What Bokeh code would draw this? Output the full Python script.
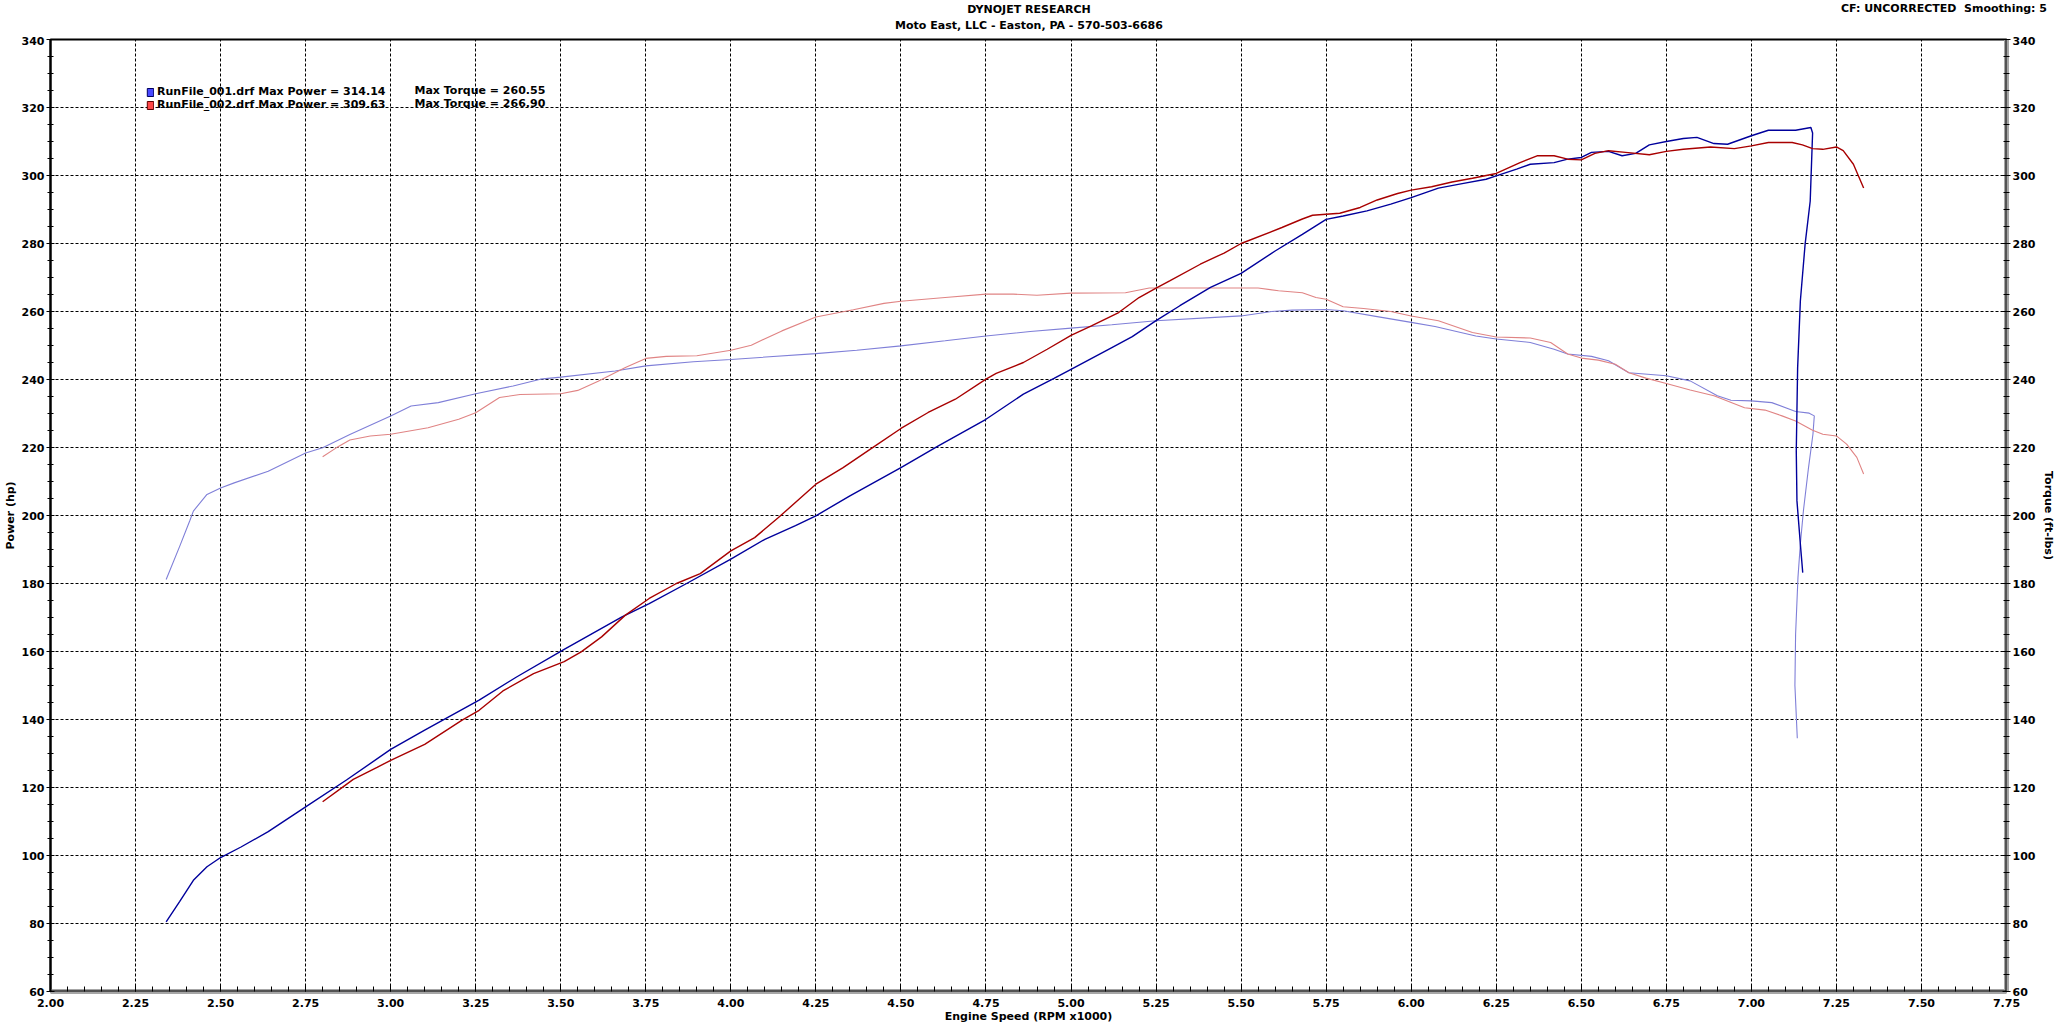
from bokeh.plotting import figure
from bokeh.layouts import column
from bokeh.models import (Range1d, LinearAxis, SingleIntervalTicker, PrintfTickFormatter,
                          Label, Legend, LegendItem, Span, Div)
from bokeh.embed import file_html
from bokeh.resources import INLINE

# ---------------- data ----------------
title_1 = "DYNOJET RESEARCH"
title_2 = "Moto East, LLC - Easton, PA - 570-503-6686"
corner_note = "CF: UNCORRECTED&nbsp;&nbsp;Smoothing: 5"
run_names = ["RunFile_001.drf", "RunFile_002.drf"]
max_power = ["314.14", "309.63"]
max_torque = ["260.55", "266.90"]

rpm1_power = [2.34, 2.38, 2.42, 2.46, 2.50, 2.56, 2.64, 2.75, 2.87, 3.00, 3.10, 3.26, 3.37, 3.51,
              3.68, 3.76, 3.87, 4.00, 4.10, 4.19, 4.25, 4.35, 4.50, 4.61, 4.75, 4.86, 4.95, 5.00,
              5.12, 5.18, 5.25, 5.32, 5.41, 5.50, 5.60, 5.68, 5.75, 5.80, 5.87, 5.94, 6.00, 6.08,
              6.15, 6.22, 6.25, 6.31, 6.35, 6.42, 6.46, 6.50, 6.53, 6.58, 6.62, 6.66, 6.70, 6.75,
              6.80, 6.84, 6.89, 6.93, 7.00, 7.05, 7.13, 7.175, 7.18, 7.173, 7.158, 7.144, 7.136,
              7.132, 7.134, 7.144, 7.151]
power1 = [80.5, 86.5, 92.7, 96.7, 99.4, 102.5, 107.0, 114.3, 122.2, 131.2, 136.9, 145.7, 152.5, 160.6,
          170.2, 174.1, 180.0, 187.2, 193.0, 197.0, 199.9, 205.8, 214.1, 220.5, 228.3, 235.7, 240.3, 243.0,
          249.4, 252.6, 257.3, 261.7, 267.1, 271.2, 277.8, 282.7, 287.1, 288.1, 289.6, 291.6, 293.5, 296.3,
          297.6, 298.9, 299.9, 301.9, 303.3, 303.8, 304.8, 305.3, 306.8, 307.1, 305.8, 306.5, 309.0, 310.0,
          310.9, 311.2, 309.4, 309.2, 311.7, 313.3, 313.3, 314.1, 312.5, 292.5, 279.8, 263.1, 243.5,
          219.0, 204.3, 191.6, 183.2]

rpm1_torque = [2.34, 2.38, 2.41, 2.42, 2.46, 2.50, 2.54, 2.64, 2.75, 2.80, 2.88, 3.00, 3.06, 3.14,
               3.25, 3.36, 3.44, 3.50, 3.66, 3.75, 3.89, 4.00, 4.25, 4.37, 4.50, 4.63, 4.75, 4.88,
               5.00, 5.12, 5.25, 5.41, 5.50, 5.59, 5.65, 5.75, 5.80, 5.90, 6.00, 6.07, 6.19, 6.25,
               6.35, 6.42, 6.46, 6.53, 6.58, 6.64, 6.75, 6.82, 6.90, 6.94, 7.00, 7.06, 7.13, 7.17,
               7.185, 7.181, 7.168, 7.153, 7.144, 7.137, 7.13, 7.128, 7.135]
torque1 = [181.2, 191.0, 198.6, 201.3, 206.2, 208.1, 209.6, 213.0, 218.4, 219.9, 223.8, 229.3, 232.2, 233.2,
           235.8, 238.1, 240.1, 240.7, 242.5, 244.0, 245.2, 245.9, 247.6, 248.6, 249.9, 251.4, 252.8, 254.1,
           255.1, 256.1, 257.3, 258.2, 258.7, 260.0, 260.4, 260.6, 260.2, 258.5, 256.8, 255.6, 252.8, 251.9,
           250.9, 248.9, 247.5, 246.8, 245.5, 242.0, 241.1, 239.6, 235.2, 233.9, 233.7, 233.2, 230.6, 230.1,
           229.3, 223.9, 214.1, 201.4, 191.6, 181.8, 165.0, 150.0, 134.5]

rpm2_power = [2.80, 2.86, 2.89, 2.96, 3.00, 3.10, 3.21, 3.26, 3.33, 3.42, 3.51, 3.56, 3.62, 3.69,
              3.76, 3.84, 3.91, 4.00, 4.07, 4.14, 4.25, 4.33, 4.42, 4.50, 4.58, 4.66, 4.75, 4.78,
              4.86, 4.93, 5.00, 5.06, 5.14, 5.20, 5.25, 5.29, 5.38, 5.45, 5.50, 5.62, 5.68, 5.71,
              5.79, 5.85, 5.90, 5.96, 6.00, 6.06, 6.12, 6.18, 6.25, 6.32, 6.37, 6.42, 6.46, 6.50,
              6.54, 6.58, 6.63, 6.70, 6.75, 6.80, 6.88, 6.95, 7.00, 7.05, 7.12, 7.15, 7.18, 7.21,
              7.25, 7.27, 7.30, 7.33]
power2 = [115.8, 120.2, 122.4, 125.9, 128.0, 132.7, 139.8, 142.7, 148.4, 153.5, 157.0, 159.9, 164.3, 170.7,
          175.6, 180.0, 182.9, 189.6, 193.5, 199.4, 209.2, 214.1, 220.2, 225.6, 230.3, 234.2, 240.1, 241.8,
          245.0, 248.9, 253.0, 255.8, 259.7, 264.1, 266.9, 269.0, 273.9, 277.2, 280.0, 284.7, 287.2, 288.3,
          288.9, 290.6, 292.8, 294.7, 295.7, 296.7, 298.1, 299.2, 300.6, 303.8, 305.8, 305.8, 304.8, 304.6,
          306.5, 307.3, 306.8, 306.1, 307.1, 307.7, 308.4, 307.9, 308.7, 309.7, 309.7, 309.0, 307.9, 307.7,
          308.4, 307.3, 303.3, 296.3]

rpm2_torque = [2.80, 2.84, 2.88, 2.94, 3.00, 3.11, 3.20, 3.25, 3.32, 3.38, 3.50, 3.55, 3.61, 3.69,
               3.75, 3.81, 3.90, 4.00, 4.06, 4.15, 4.25, 4.36, 4.45, 4.50, 4.63, 4.75, 4.83, 4.90,
               5.00, 5.16, 5.23, 5.37, 5.50, 5.55, 5.61, 5.68, 5.72, 5.75, 5.80, 5.86, 5.94, 6.00,
               6.08, 6.18, 6.25, 6.35, 6.41, 6.46, 6.50, 6.55, 6.60, 6.64, 6.69, 6.75, 6.82, 6.89,
               6.98, 7.04, 7.09, 7.13, 7.18, 7.21, 7.25, 7.28, 7.31, 7.33]
torque2 = [217.3, 219.9, 222.2, 223.4, 223.9, 225.8, 228.3, 230.2, 234.7, 235.6, 235.8, 236.8, 239.5, 243.5,
           246.2, 246.8, 247.0, 248.6, 250.1, 254.3, 258.4, 260.5, 262.4, 263.0, 264.1, 265.1, 265.1, 264.8,
           265.4, 265.5, 266.9, 266.9, 266.9, 266.9, 266.1, 265.5, 264.1, 263.6, 261.4, 260.9, 260.0, 258.7,
           257.3, 253.8, 252.5, 252.2, 250.9, 247.5, 246.3, 245.7, 244.5, 242.0, 240.4, 238.8, 236.9, 235.2,
           231.7, 231.0, 229.3, 227.8, 225.1, 223.9, 223.4, 221.0, 217.1, 212.2]

x_ticks_interval = 0.25
y_ticks_interval = 20

# ---------------- figure ----------------
FONT = "DejaVu Sans"
FS = "11px"
W = 2058
H = 1025
HEADER_H = 36

p = figure(width=W, height=H - HEADER_H, output_backend="svg", toolbar_location=None,
           x_range=Range1d(2.0, 7.75), y_range=Range1d(60, 340),
           min_border_left=48, min_border_right=48, min_border_top=3, min_border_bottom=34,
           background_fill_color="white", border_fill_color="white")
p.extra_y_ranges = {"torque": Range1d(60, 340)}
right_axis = LinearAxis(y_range_name="torque", axis_label="Torque (ft-lbs)")
p.add_layout(right_axis, "right")

p.outline_line_color = "black"
p.outline_line_width = 2

xax = p.xaxis[0]
xax.ticker = SingleIntervalTicker(interval=x_ticks_interval, num_minor_ticks=5)
xax.formatter = PrintfTickFormatter(format="%.2f")
xax.axis_label = "Engine Speed (RPM x1000)"
xax.axis_line_color = "#a6a6a6"
xax.axis_line_width = 5
xax.major_tick_in = 6
xax.major_tick_out = 0
xax.minor_tick_in = 5
xax.minor_tick_out = 0
xax.major_label_standoff = 7

for ax in [p.yaxis[0], right_axis]:
    ax.ticker = SingleIntervalTicker(interval=y_ticks_interval, num_minor_ticks=4)
    ax.major_tick_in = 4
    ax.major_tick_out = 4
    ax.minor_tick_in = 3
    ax.minor_tick_out = 3
    ax.major_label_standoff = 2

p.yaxis[0].axis_label = "Power (hp)"
p.yaxis[0].axis_line_color = "black"
p.yaxis[0].axis_line_width = 2
right_axis.axis_line_color = "#a6a6a6"
right_axis.axis_line_width = 5

for ax in [xax, p.yaxis[0], right_axis]:
    ax.major_tick_line_color = "black"
    ax.minor_tick_line_color = "black"
    ax.major_label_text_font = FONT
    ax.major_label_text_font_style = "bold"
    ax.major_label_text_font_size = FS
    ax.major_label_text_color = "black"
    ax.axis_label_text_font = FONT
    ax.axis_label_text_font_style = "bold"
    ax.axis_label_text_font_size = FS
    ax.axis_label_text_color = "black"
    ax.axis_label_standoff = 0
p.yaxis[0].axis_label_standoff = 2
right_axis.axis_label_standoff = 4

for g in [p.xgrid[0], p.ygrid[0]]:
    g.grid_line_color = "black"
    g.grid_line_dash = "3 2"
    g.grid_line_width = 1
    g.grid_line_alpha = 1.0

# black edges over the grey "shadow" axis lines
p.add_layout(Span(location=60, dimension="width", line_color="black", line_width=2))
p.add_layout(Span(location=7.75, dimension="height", line_color="black", line_width=2))

# ---------------- curves ----------------
p.line(rpm1_torque, torque1, y_range_name="torque", line_color="#7f7fd8", line_width=1.1)
p.line(rpm2_torque, torque2, y_range_name="torque", line_color="#e08484", line_width=1.1)
p.line(rpm1_power, power1, line_color="#00009c", line_width=1.4)
p.line(rpm2_power, power2, line_color="#a80000", line_width=1.4)

# ---------------- legend ----------------
nan = float("nan")
box1 = p.quad(left=[nan], right=[nan], top=[nan], bottom=[nan], fill_color="#4848ff", line_color="#000060")
box2 = p.quad(left=[nan], right=[nan], top=[nan], bottom=[nan], fill_color="#ff4848", line_color="#600000")
legend = Legend(items=[
    LegendItem(label=f"{run_names[0]} Max Power = {max_power[0]}", renderers=[box1]),
    LegendItem(label=f"{run_names[1]} Max Power = {max_power[1]}", renderers=[box2]),
], location=(96, 880))
legend.background_fill_alpha = 0
legend.border_line_alpha = 0
legend.padding = 0
legend.margin = 0
legend.spacing = -1
legend.glyph_width = 8
legend.glyph_height = 10
legend.label_height = 12
legend.label_standoff = 3
legend.label_text_font = FONT
legend.label_text_font_style = "bold"
legend.label_text_font_size = FS
legend.label_text_color = "black"
p.add_layout(legend)

lab_kw = dict(text_font=FONT, text_font_style="bold", text_font_size=FS, text_color="black",
              text_baseline="middle")
p.add_layout(Label(x=3.07, y=324.9, text=f"Max Torque = {max_torque[0]}", text_align="left", **lab_kw))
p.add_layout(Label(x=3.07, y=321.2, text=f"Max Torque = {max_torque[1]}", text_align="left", **lab_kw))

# ---------------- header (titles) ----------------
base = "position:absolute;line-height:14px;white-space:nowrap;"
header_html = (
    f'<div style="position:relative;width:{W}px;height:{HEADER_H}px;'
    f"font-family:'{FONT}';font-weight:bold;font-size:{FS};color:black;\">"
    f'<div style="{base}left:48px;width:1962px;top:3px;text-align:center;">{title_1}</div>'
    f'<div style="{base}left:48px;width:1962px;top:19px;text-align:center;">{title_2}</div>'
    f'<div style="{base}right:11px;top:2px;text-align:right;">{corner_note}</div>'
    '</div>'
)
header = Div(text=header_html, width=W, height=HEADER_H, margin=0)

layout = column(header, p, spacing=0)
open("out.html", "w").write(file_html(layout, INLINE))
